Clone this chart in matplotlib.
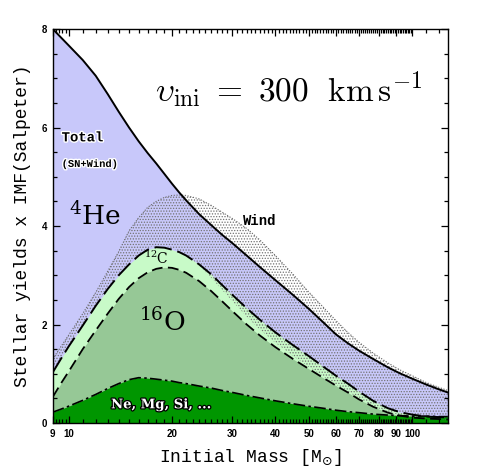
import numpy as np
import matplotlib
matplotlib.use("Agg")
import matplotlib.pyplot as plt
import matplotlib.ticker as mticker
import matplotlib.patheffects as pe

mass = [9, 9.5, 10, 11, 12, 13, 14, 15, 16, 17, 18, 19, 20, 21, 22, 24, 26, 28, 30,
        33, 36, 40, 45, 50, 55, 60, 65, 70, 77, 85, 92, 100, 110, 120, 127]

# stacked yields x IMF
total = [8.00, 7.83, 7.67, 7.37, 7.05, 6.68, 6.32, 6.00, 5.72, 5.48, 5.27, 5.06,
         4.86, 4.68, 4.52, 4.24, 4.02, 3.82, 3.65, 3.40, 3.17, 2.90, 2.60, 2.32,
         2.05, 1.80, 1.62, 1.47, 1.30, 1.13, 1.01, 0.90, 0.78, 0.68, 0.62]
carbon = [1.03, 1.30, 1.55, 1.98, 2.38, 2.72, 3.00, 3.22, 3.40, 3.52, 3.57, 3.56,
          3.52, 3.47, 3.40, 3.22, 3.02, 2.80, 2.60, 2.33, 2.10, 1.84, 1.58, 1.36,
          1.15, 0.96, 0.80, 0.64, 0.45, 0.30, 0.22, 0.17, 0.13, 0.12, 0.11]
oxygen = [0.53, 0.80, 1.04, 1.50, 1.88, 2.22, 2.52, 2.76, 2.94, 3.06, 3.13, 3.16,
          3.15, 3.11, 3.05, 2.88, 2.68, 2.47, 2.27, 2.00, 1.78, 1.54, 1.30, 1.10,
          0.92, 0.76, 0.62, 0.48, 0.33, 0.21, 0.15, 0.11, 0.09, 0.08, 0.07]
heavy = [0.22, 0.28, 0.34, 0.46, 0.58, 0.70, 0.80, 0.88, 0.92, 0.91, 0.89, 0.87,
         0.85, 0.82, 0.80, 0.75, 0.71, 0.66, 0.62, 0.56, 0.51, 0.45, 0.39, 0.34,
         0.30, 0.26, 0.23, 0.21, 0.18, 0.16, 0.15, 0.14, 0.14, 0.13, 0.13]

# wind contribution (dotted region)
wind_hi = [1.30, 1.55, 1.78, 2.22, 2.65, 3.08, 3.48, 3.90, 4.17, 4.38, 4.50, 4.58,
           4.62, 4.63, 4.62, 4.55, 4.42, 4.28, 4.15, 3.95, 3.72, 3.40, 3.02, 2.66,
           2.36, 2.08, 1.84, 1.64, 1.42, 1.22, 1.08, 0.96, 0.82, 0.72, 0.66]
wind_lo = [1.06, 1.33, 1.58, 2.01, 2.41, 2.75, 3.03, 3.25, 3.43, 3.55, 3.60, 3.59,
           3.55, 3.49, 3.42, 3.20, 2.95, 2.70, 2.47, 2.16, 1.90, 1.63, 1.36, 1.14,
           0.95, 0.78, 0.64, 0.50, 0.34, 0.22, 0.16, 0.12, 0.09, 0.08, 0.07]

xt_major = [9, 10, 20, 30, 40, 50, 60, 70, 80, 90, 100]
xt_labels = ["9", "10", "20", "30", "40", "50", "60", "70", "80", "90", "100"]
xt_minor = [9.2, 9.4, 9.6, 9.8] + [m for m in range(11, 100) if m % 10] + [110, 120]

fig = plt.figure(figsize=(4.8, 4.74), dpi=100)
ax = fig.add_axes([0.110, 0.1076, 0.823, 0.8312])
ax.set_xscale("log")

ax.fill_between(mass, 0, total, color="#c8c8fa", lw=0)
ax.fill_between(mass, 0, carbon, color="#c8fac8", lw=0)
ax.fill_between(mass, 0, oxygen, color="#96c896", lw=0)
ax.fill_between(mass, 0, heavy, color="#009600", lw=0)

plt.rcParams["hatch.linewidth"] = 0.6
ax.fill_between(mass, wind_lo, wind_hi, facecolor="none", edgecolor="0.45",
                hatch="......", lw=0)
ax.plot(mass, wind_hi, color="0.4", lw=0.8, ls=(0, (1, 1.5)))

ax.plot(mass, total, color="k", lw=1.4)
ax.plot(mass, carbon, color="k", lw=1.4, ls=(0, (9, 3)))
ax.plot(mass, oxygen, color="k", lw=1.3, ls=(0, (6, 3)))
ax.plot(mass, heavy, color="k", lw=1.2, ls=(0, (7, 2, 1.5, 2)))

ax.set_xlim(9, 127)
ax.set_ylim(0, 8)
ax.xaxis.set_major_locator(mticker.FixedLocator(xt_major))
ax.xaxis.set_major_formatter(mticker.FixedFormatter(xt_labels))
ax.xaxis.set_minor_locator(mticker.FixedLocator(xt_minor))
ax.xaxis.set_minor_formatter(mticker.NullFormatter())
ax.yaxis.set_major_locator(mticker.MultipleLocator(2))
ax.yaxis.set_minor_locator(mticker.MultipleLocator(0.5))
ax.tick_params(which="both", direction="in", top=True, right=True, width=0.9)
ax.tick_params(which="major", length=5, labelsize=7, pad=4)
ax.tick_params(which="minor", length=2.8)
for lab in ax.get_xticklabels() + ax.get_yticklabels():
    lab.set_fontweight("bold")
    lab.set_family("Liberation Sans")
for s in ax.spines.values():
    s.set_linewidth(1.0)

ax.set_xlabel("Initial Mass [M$_{\\odot}$]", family="Liberation Mono", fontsize=13,
              labelpad=6)
ax.set_ylabel("Stellar yields x IMF(Salpeter)", family="Liberation Mono", fontsize=13,
              labelpad=8)

halo = [pe.withStroke(linewidth=2.0, foreground="white")]
ax.text(9.55, 5.8, "Total", family="Liberation Mono", fontweight="bold", fontsize=10,
        va="center", path_effects=halo)
ax.text(9.55, 5.26, "(SN+Wind)", family="Liberation Mono", fontweight="bold",
        fontsize=7.5, va="center", path_effects=halo)
ax.text(10.0, 4.18, r"$^{4}\mathrm{He}$", math_fontfamily="dejavuserif",
        fontsize=19, va="center")
ax.text(16.6, 3.35, r"$^{12}\mathrm{C}$", math_fontfamily="dejavuserif",
        fontsize=10, va="center")
ax.text(16.0, 2.03, r"$^{16}\mathrm{O}$", math_fontfamily="dejavuserif",
        fontsize=19, va="center")
ax.text(13.3, 0.37, "Ne, Mg, Si, ...", family="DejaVu Serif", fontweight="bold",
        fontsize=9.5, color="white", va="center",
        path_effects=[pe.withStroke(linewidth=1.8, foreground="black")])
ax.text(32.1, 4.10, "Wind", family="Liberation Mono", fontweight="bold", fontsize=10,
        va="center")
ax.text(17.9, 6.52, r"$\upsilon_{\rm ini}\ =\ 300\ \ {\rm km\,s^{-1}}$",
        math_fontfamily="cm", fontsize=24, va="baseline")

fig.savefig("out.png", dpi=100)
